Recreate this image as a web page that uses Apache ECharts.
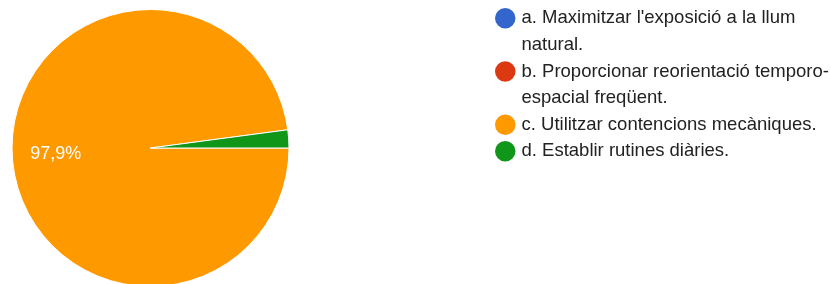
<!DOCTYPE html>
<html><head><meta charset="utf-8">
<script src="https://cdn.jsdelivr.net/npm/echarts@6/dist/echarts.min.js"></script>
<style>html,body{margin:0;padding:0;background:#fff}#c{width:831px;height:284px}</style>
</head><body><div id="c"></div>
<script>
const categories = [
  "a. Maximitzar l'exposició a la llum natural.",
  "b. Proporcionar reorientació temporo-espacial freqüent.",
  "c. Utilitzar contencions mecàniques.",
  "d. Establir rutines diàries."
];
const legendLabels = [
  "a. Maximitzar l'exposició a la llum\nnatural.",
  "b. Proporcionar reorientació temporo-\nespacial freqüent.",
  "c. Utilitzar contencions mecàniques.",
  "d. Establir rutines diàries."
];
const values = [0, 0, 97.9, 2.1];
const colors = ['#3366cc', '#dc3912', '#ff9900', '#109618'];

const FONT = "'Liberation Sans', Arial, Helvetica, sans-serif";
const LH = 26.6, FS = 18.5, ICON = 22.5;
let lineAcc = 0;
const legends = categories.map((name, i) => {
  const n = legendLabels[i].split('\n').length;
  const c = 18.3 + lineAcc * LH;
  lineAcc += n;
  // prepend blank lines so the first text line is centred on the icon
  const txt = '\n'.repeat(n - 1) + legendLabels[i];
  const total = 2 * n - 1;
  return {
    data: [name], orient: 'vertical', left: 493, top: c - total * LH / 2,
    padding: 0, icon: 'circle', itemWidth: ICON, itemHeight: ICON,
    selectedMode: false,
    formatter: () => txt,
    textStyle: { fontSize: FS, fontFamily: FONT, color: '#222222', lineHeight: LH }
  };
});

const pieData = categories.map((n, i) => ({ name: n, value: values[i] }));
const chart = echarts.init(document.getElementById('c'));
chart.setOption({
  animation: false,
  color: colors,
  legend: legends,
  series: [
    {
      type: 'pie', center: [150.5, 148], radius: [0, 138.5], startAngle: 0, clockwise: true,
      data: pieData, silent: true, emphasis: { disabled: true },
      label: { show: false }, labelLine: { show: false },
      itemStyle: { borderColor: '#fff', borderWidth: 1 }
    },
    {
      type: 'pie', center: [150.5, 148], radius: [45.5, 138.5], startAngle: 0, clockwise: true,
      data: pieData, silent: true, emphasis: { disabled: true }, avoidLabelOverlap: false,
      itemStyle: { color: 'transparent', borderWidth: 0 },
      labelLine: { show: false },
      label: {
        show: true, position: 'inside', color: '#fff', fontSize: 18, fontFamily: FONT,
        formatter: p => p.percent >= 5 ? p.percent.toFixed(1).replace('.', ',') + '%' : ''
      }
    }
  ]
});
</script></body></html>
